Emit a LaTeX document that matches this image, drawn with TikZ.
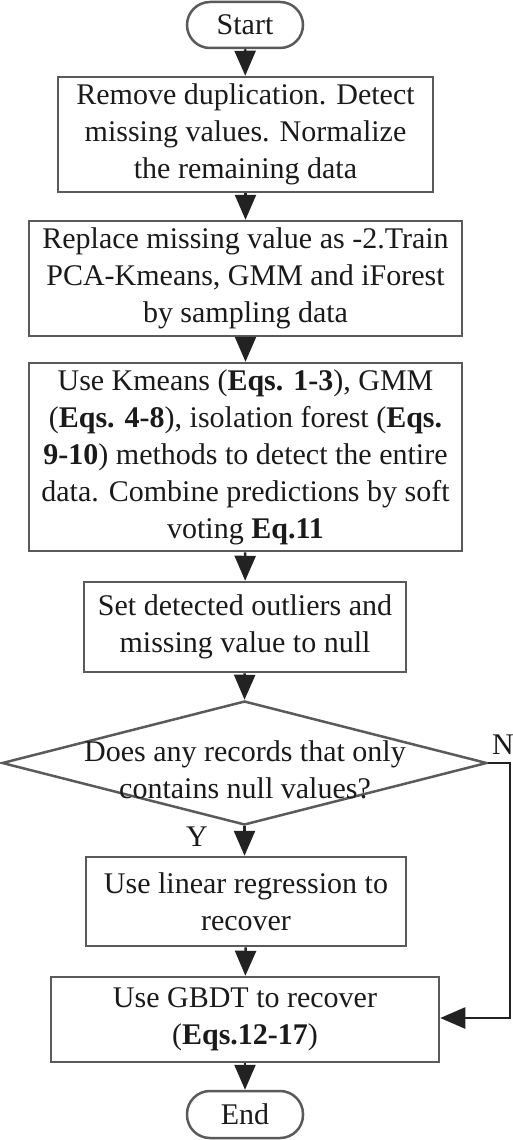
\documentclass[tikz,border=0pt]{standalone}
\usepackage{fontspec}
\setmainfont{Liberation Serif}
\usetikzlibrary{shapes.geometric,arrows.meta}
\definecolor{boxline}{HTML}{5A5A5A}
\definecolor{arrowcol}{HTML}{222222}
\definecolor{txt}{HTML}{1A1A1A}
\begin{document}
\begin{tikzpicture}[x=1pt,y=-1pt,
  every node/.style={font=\fontsize{30}{37}\selectfont, text=txt},
  procbox/.style={draw=boxline, line width=2.5pt, rectangle, inner sep=0pt, align=center},
  termbox/.style={draw=boxline, line width=2.5pt, rectangle, rounded corners=23pt, inner sep=0pt, align=center},
  decbox/.style={draw=boxline, line width=2.5pt, diamond, inner sep=0pt, aspect=3.9},
  flow/.style={draw=arrowcol, line width=2.5pt, -{Triangle[width=21pt,length=25pt]}},
  lbl/.style={inner sep=0pt}
]
\useasboundingbox (0,0) rectangle (512,1140);

\node[termbox, minimum width=116pt, minimum height=46pt] (start) at (245,25) {Start};

\node[procbox, minimum width=375pt, minimum height=115pt] (b1) at (245.5,134.5)
  {Remove duplication. Detect\\missing values. Normalize\\the remaining data};

\node[procbox, minimum width=433pt, minimum height=115pt] (b2) at (245.5,278.5)
  {Replace missing value as -2.Train\\PCA-Kmeans, GMM and iForest\\by sampling data};

\node[procbox, minimum width=433pt, minimum height=188pt] (b3) at (245.5,457)
  {Use Kmeans (\textbf{Eqs. 1-3}), GMM\\(\textbf{Eqs. 4-8}), isolation forest (\textbf{Eqs.}\\\textbf{9-10}) methods to detect the entire\\data. Combine predictions by soft\\voting \textbf{Eq.11}};

\node[procbox, minimum width=322pt, minimum height=90pt] (b4) at (245,627)
  {Set detected outliers and\\missing value to null};

\node[decbox, minimum width=485pt, minimum height=124pt] (dec) at (244.5,763) {};
\node[lbl, align=center] (dectext) at (245,770) {Does any records that only\\contains null values?};

\node[procbox, minimum width=320pt, minimum height=89pt] (lr) at (246,901.5)
  {Use linear regression to\\recover};

\node[procbox, minimum width=388pt, minimum height=85pt] (gb) at (245,1019.5)
  {Use GBDT to recover\\(\textbf{Eqs.12-17})};

\node[termbox, minimum width=116pt, minimum height=47pt] (end) at (245,1114.5) {End};

\node[lbl] (ylab) at (197,837) {Y};
\node[lbl] (nlab) at (503,745) {N};

\coordinate (nA) at (510,763);
\coordinate (nB) at (510,1018);

\draw[flow] (start) -- (b1);
\draw[flow] (b1) -- (b2);
\draw[flow] (b2) -- (b3);
\draw[flow] (b3) -- (b4);
\draw[flow] (b4) -- (dec.north);
\draw[flow] (dec.south) -- (lr.north -| dec.south);
\draw[flow] (lr) -- (gb);
\draw[flow] (gb) -- (end);
\draw[flow] (dec.east) -- (nA) -- (nB) -- (gb.east |- nB);
\end{tikzpicture}
\end{document}
